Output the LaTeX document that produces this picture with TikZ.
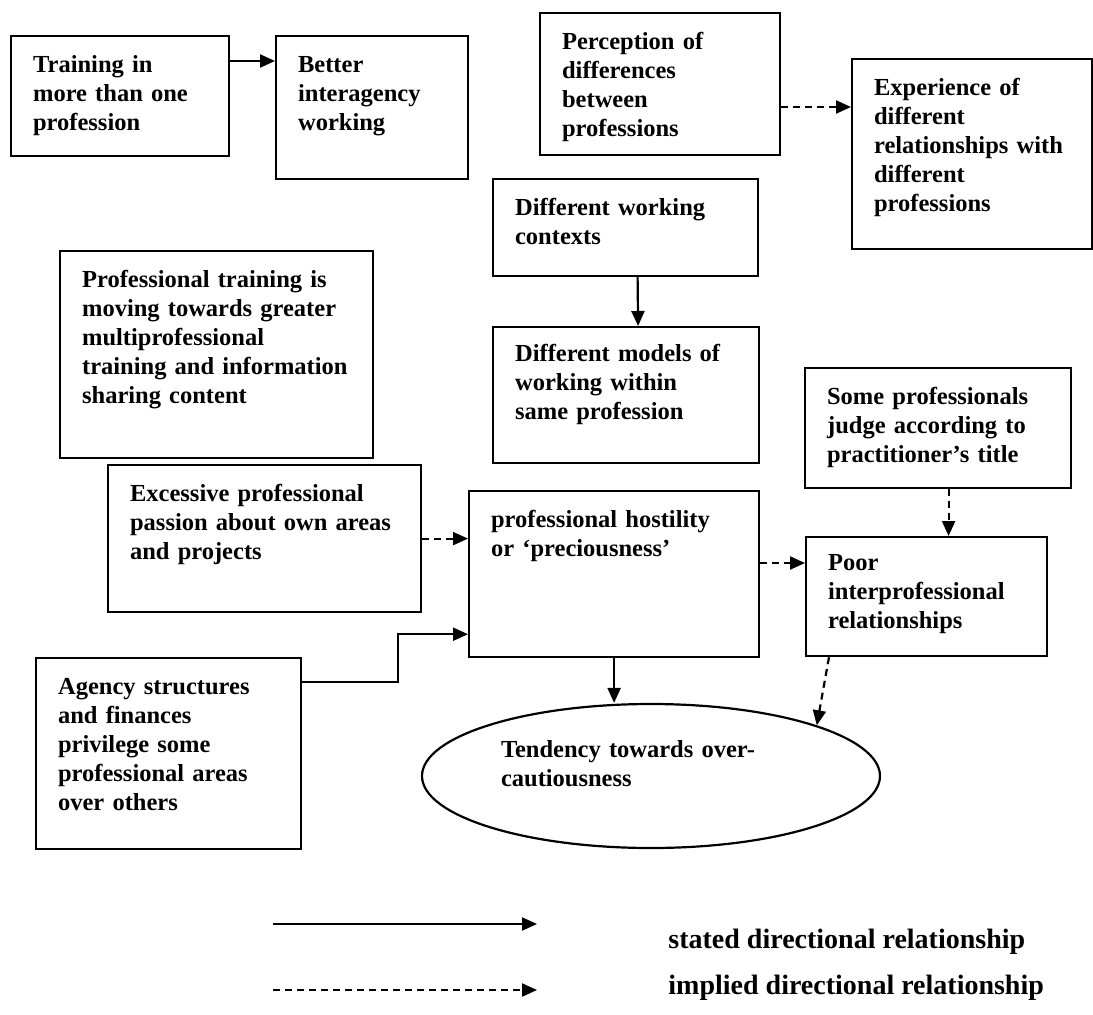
\documentclass[tikz,border=0pt]{standalone}
\usepackage{fontspec}
\setmainfont{Liberation Serif}
\usetikzlibrary{arrows.meta,positioning,calc,shapes.geometric}

\begin{document}
\begin{tikzpicture}[
  x=1pt,y=-1pt,
  >={Triangle[length=15pt,width=13pt]},
  line width=2.2pt,
  every node/.style={font={\fontsize{24.5}{29}\selectfont\bfseries}},
  card/.style 2 args={rectangle,draw,anchor=north west,align=left,
    inner xsep=22pt,inner ysep=0pt,text width={#1-44},
    text height=36pt,text depth={#2-36}},
  key/.style={anchor=west,font={\fontsize{28}{32}\selectfont\bfseries}},
  stated/.style={->},
  implied/.style={->,dash pattern=on 7pt off 5pt}
]
\useasboundingbox (0,0) rectangle (1093,1015);

% boxes
\node[card={218}{120}] (train) at (10,35) {Training in\\more than one\\profession};
\node[card={192}{143}] (better) at (275,35) {Better\\interagency\\working};
\node[card={240}{142}] (percep) at (539,12) {Perception of\\differences\\between\\professions};
\node[card={240}{190}] (exper) at (851,58) {Experience of\\different\\relationships with\\different\\professions};
\node[card={265}{97}] (contexts) at (492,178) {Different working\\contexts};
\node[card={313}{207}] (multi) at (59,250) {Professional training is\\moving towards greater\\multiprofessional\\training and information\\sharing content};
\node[card={266}{138},text height=34pt] (models) at (492,326) {Different models of\\working within\\same profession};
\node[card={266}{120}] (judge) at (804,367) {Some professionals\\judge according to\\practitioner’s title};
\node[card={313}{147}] (excess) at (107,464) {Excessive professional\\passion about own areas\\and projects};
\node[card={290}{166}] (hostility) at (468,490) {professional hostility\\or ‘preciousness’};
\node[card={241}{122},text height=33pt] (poor) at (805,536) {Poor\\interprofessional\\relationships};
\node[card={265}{191}] (agency) at (35,657) {Agency structures\\and finances\\privilege some\\professional areas\\over others};
\node[ellipse,draw,minimum width=458pt,minimum height=144pt,inner sep=0pt,
  align=left,text width=300pt,text height=17pt,text depth=55pt] (tend) at (651,776)
  {Tendency towards over-\\cautiousness};

% connectors
\draw[stated] ([yshift=-26pt]train.north east) -- ([yshift=-26pt]better.north west);
\coordinate (pe) at ([yshift=-49pt]exper.north west);
\draw[implied] (percep.east |- pe) -- (pe);
\draw[stated] ([xshift=12pt]contexts.south) -- ([xshift=12pt]models.north);
\draw[implied] (excess.east) -- (excess.east -| hostility.west);
\coordinate (a1) at ([yshift=-25pt]agency.north east);
\coordinate (h1) at ([yshift=24pt]hostility.south west);
\draw[stated] (a1) -- ++(96,0) |- (h1);
\draw[stated] (hostility.south) -- (hostility.south |- tend.north);
\coordinate (pq) at ([yshift=-27pt]poor.north west);
\draw[implied] (hostility.east |- pq) -- (pq);
\coordinate (jp) at ([xshift=22pt]poor.north);
\draw[implied] (judge.south -| jp) -- (jp);
\draw[implied] ([xshift=24pt]poor.south west) -- (tend.17);

% legend
\coordinate (s0) at (273,924);
\coordinate (s1) at (537,924);
\coordinate (d0) at (273,990);
\coordinate (d1) at (537,990);
\draw[stated] (s0) -- (s1);
\draw[implied] (d0) -- (d1);
\node[key] (statedtxt) at (664,942) {stated directional relationship};
\node[key] (impliedtxt) at (664,988) {implied directional relationship};
\end{tikzpicture}
\end{document}
